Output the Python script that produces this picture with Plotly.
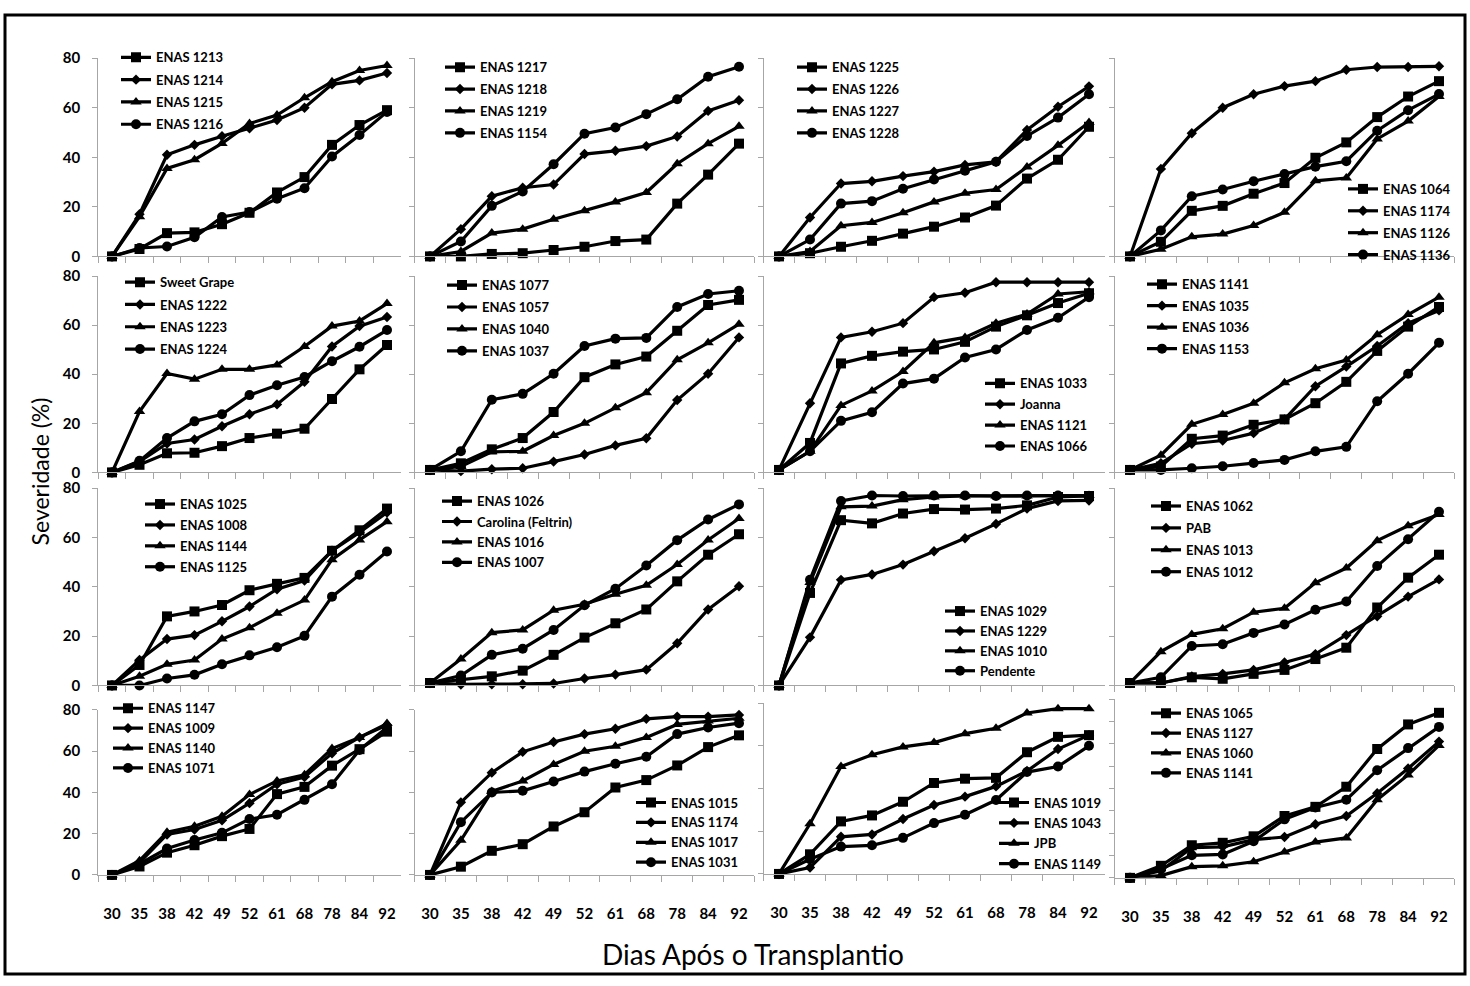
import plotly.graph_objects as go

W, H = 1470, 986

days = ["30", "35", "38", "42", "49", "52", "61", "68", "78", "84", "92"]

# ---------------- data (one panel = four accessions) ----------------
p1_names = ["ENAS 1213", "ENAS 1214", "ENAS 1215", "ENAS 1216"]
p1_sq = [0, 3, 9.4, 9.7, 13, 17.6, 25.8, 32, 45, 53, 59]
p1_di = [0, 17, 41, 45, 48.5, 51.7, 55, 60, 69.4, 71, 74]
p1_tr = [0, 16, 35.5, 39, 45.6, 53.6, 57, 64, 70.5, 75, 77]
p1_ci = [0, 3.4, 4, 7.7, 15.9, 17.9, 23.3, 27.5, 40.3, 49, 58.3]

p2_names = ["ENAS 1217", "ENAS 1218", "ENAS 1219", "ENAS 1154"]
p2_sq = [0, 0, 1, 1.3, 2.6, 3.9, 6.2, 6.8, 21.3, 33, 45.5]
p2_di = [0, 11, 24.3, 27.7, 29, 41.3, 42.6, 44.5, 48.4, 58.7, 63]
p2_tr = [0, 2, 9.4, 11, 15, 18.4, 22, 25.8, 37.4, 45.5, 52.5]
p2_ci = [0, 6, 20.4, 26.2, 37.2, 49.5, 52, 57.4, 63.4, 72.5, 76.5]

p3_names = ["ENAS 1225", "ENAS 1226", "ENAS 1227", "ENAS 1228"]
p3_sq = [0, 1.3, 3.9, 6.3, 9.2, 12, 15.7, 20.5, 31.4, 39, 52.3]
p3_di = [0, 15.7, 29.4, 30.3, 32.4, 34.2, 36.9, 38.2, 51, 60.4, 68.6]
p3_tr = [0, 2, 12.4, 13.7, 17.6, 22, 25.5, 27, 36.1, 44.8, 54]
p3_ci = [0, 6.8, 21.3, 22.3, 27.3, 31, 34.6, 38.2, 48.6, 56, 65.4]

p4_names = ["ENAS 1064", "ENAS 1174", "ENAS 1126", "ENAS 1136"]
p4_sq = [0, 5.9, 18.4, 20.4, 25.3, 29.6, 39.8, 46, 56.2, 64.5, 70.7]
p4_di = [0, 35.3, 49.7, 60, 65.4, 68.7, 70.7, 75.3, 76.4, 76.4, 76.7]
p4_tr = [0, 2.9, 7.9, 9, 12.5, 17.8, 30.5, 31.6, 47.4, 54.6, 64.5]
p4_ci = [0, 10.5, 24.3, 27, 30.3, 33.2, 36.2, 38.4, 50.7, 59, 65.5]

p5_names = ["Sweet Grape", "ENAS 1222", "ENAS 1223", "ENAS 1224"]
p5_sq = [0, 3.1, 7.8, 8, 10.7, 14, 15.8, 17.8, 29.9, 42, 51.9]
p5_di = [0, 4.4, 11.8, 13.4, 18.8, 23.7, 27.7, 36.9, 51.3, 59.6, 63.3]
p5_tr = [0, 24.8, 40.3, 38, 42, 42, 43.8, 51.3, 59.6, 61.7, 68.8]
p5_ci = [0, 4.7, 14, 20.8, 23.7, 31.5, 35.5, 38.9, 45.3, 51.2, 58]

p6_names = ["ENAS 1077", "ENAS 1057", "ENAS 1040", "ENAS 1037"]
p6_sq = [1, 3.7, 9.4, 14, 24.6, 38.8, 44, 47.2, 57.7, 68.2, 70.3]
p6_di = [1, 0.5, 1.3, 1.7, 4.4, 7.3, 11, 13.9, 29.5, 40.2, 55]
p6_tr = [1, 2.4, 8.4, 8.6, 15, 20, 26.3, 32.5, 45.9, 52.8, 60.4]
p6_ci = [1, 8.6, 29.6, 32, 40.2, 51.5, 54.5, 54.8, 67.4, 72.7, 74]

p7_names = ["ENAS 1033", "Joanna", "ENAS 1121", "ENAS 1066"]
p7_sq = [1, 12, 44.4, 47.5, 49.2, 50.1, 53.2, 59.4, 64, 69, 73]
p7_di = [1, 28.2, 55, 57.3, 60.8, 71.4, 73.2, 77.5, 77.5, 77.5, 77.5]
p7_tr = [1, 8.6, 27.3, 33.2, 41.1, 52.8, 55, 60.8, 64.5, 72.7, 73.6]
p7_ci = [1, 8.6, 21, 24.5, 36.2, 38.2, 46.8, 50.1, 58, 63, 71.4]

p8_names = ["ENAS 1141", "ENAS 1035", "ENAS 1036", "ENAS 1153"]
p8_sq = [1, 2.4, 13.7, 15, 19.4, 21.6, 28.2, 36.9, 49.5, 59.4, 67.4]
p8_di = [1, 3.7, 11.7, 13, 16, 21.6, 35.1, 43.1, 51.5, 60.8, 66]
p8_tr = [1, 7, 19.6, 23.6, 28.2, 36.5, 42.2, 45.8, 56.1, 64.3, 71.4]
p8_ci = [1, 1, 1.7, 2.5, 3.8, 5.1, 8.6, 10.4, 29, 40.2, 52.8]

p9_names = ["ENAS 1025", "ENAS 1008", "ENAS 1144", "ENAS 1125"]
p9_sq = [0, 8.3, 28, 30, 32.6, 38.6, 41.2, 43.6, 54.6, 62.9, 71.7]
p9_di = [0, 10.3, 18.8, 20.4, 26, 32, 39, 42.5, 54.6, 62, 70.1]
p9_tr = [0, 3.7, 8.6, 10.3, 18.8, 23.4, 29.3, 34.6, 51, 59, 66.4]
p9_ci = [0, 0, 2.8, 4.3, 8.6, 12.2, 15.5, 20.1, 36, 44.9, 54.3]

p10_names = ["ENAS 1026", "Carolina (Feltrin)", "ENAS 1016", "ENAS 1007"]
p10_sq = [1, 2.4, 3.7, 6, 12.4, 19.4, 25.2, 30.8, 42.2, 53, 61.3]
p10_di = [1, 0.4, 0.5, 0.5, 0.8, 2.8, 4.4, 6.4, 17.1, 30.8, 40.2]
p10_tr = [1, 10.7, 21.4, 22.5, 30.5, 32.9, 37, 40.6, 49, 59, 67.7]
p10_ci = [1, 4, 12.4, 14.9, 22.5, 32.5, 39.2, 48.6, 58.9, 67.3, 73.4]

p11_names = ["ENAS 1029", "ENAS 1229", "ENAS 1010", "Pendente"]
p11_sq = [0, 37.5, 67, 65.7, 69.7, 71.5, 71.3, 71.7, 73, 76.4, 76.8]
p11_di = [0, 19.5, 42.8, 45, 49, 54.4, 59.7, 65.5, 71.7, 74.8, 75]
p11_tr = [0, 41.7, 72.4, 72.7, 75.3, 76.4, 76.8, 76.8, 76.8, 77, 77]
p11_ci = [0, 42.8, 74.8, 77, 76.8, 77, 77, 76.8, 77, 77, 76.8]

p12_names = ["ENAS 1062", "PAB", "ENAS 1013", "ENAS 1012"]
p12_sq = [1, 1, 3.3, 2.7, 4.7, 6.3, 10.7, 15.3, 31.6, 43.7, 53]
p12_di = [1, 1, 3.6, 4.7, 6.3, 9.3, 12.7, 20.4, 28, 36, 43]
p12_tr = [1, 13.7, 20.7, 23, 29.7, 31.3, 41.6, 47.6, 58.7, 64.7, 69.3]
p12_ci = [1, 3.3, 16, 16.7, 21.3, 24.7, 30.7, 34, 48.4, 59.3, 70.4]

p13_names = ["ENAS 1147", "ENAS 1009", "ENAS 1140", "ENAS 1071"]
p13_sq = [0, 4.1, 10.8, 14.4, 18.8, 22.3, 39.2, 42.7, 53, 61, 69.5]
p13_di = [0, 6, 19.6, 22, 26.5, 34.8, 44, 47.5, 59, 66.7, 72.7]
p13_tr = [0, 6.9, 20.7, 23.6, 28.4, 39, 45.6, 48.6, 61.3, 66.7, 73.4]
p13_ci = [0, 5.3, 12.8, 16.9, 20.4, 27.1, 29.2, 36.4, 44, 60.6, 71.5]

p14_names = ["ENAS 1015", "ENAS 1174", "ENAS 1017", "ENAS 1031"]
p14_sq = [0, 4, 11.7, 14.9, 23.5, 30.4, 42.4, 46, 53.1, 62, 67.7]
p14_di = [0, 35.2, 49.6, 59.7, 64.5, 68.3, 70.9, 75.7, 76.8, 76.8, 77.6]
p14_tr = [0, 16.8, 40.5, 45.6, 53.6, 60, 62.4, 66.7, 73, 74.6, 76]
p14_ci = [0, 25.6, 40, 40.8, 45.3, 50.1, 53.9, 57.3, 68.3, 71.5, 73.6]

p15_names = ["ENAS 1019", "ENAS 1043", "JPB", "ENAS 1149"]
p15_sq = [0, 9.2, 24.6, 27.4, 33.8, 42.6, 44.6, 45, 57, 64.2, 65]
p15_di = [0, 3, 17.4, 18.5, 25.7, 32.3, 36.2, 41, 48.2, 58.5, 65]
p15_tr = [0, 23.5, 50.3, 55.8, 59.5, 61.5, 65.7, 68.2, 75.4, 77.4, 77.4]
p15_ci = [0, 6.9, 12.8, 13.4, 16.9, 23.8, 27.7, 34.6, 47.7, 50.3, 60]

p16_names = ["ENAS 1065", "ENAS 1127", "ENAS 1060", "ENAS 1141"]
p16_sq = [0, 5.4, 14.6, 15.7, 18.6, 27.7, 31.8, 40.8, 57.7, 68.7, 73.9]
p16_di = [0, 3.2, 13.5, 13.9, 17.1, 18.3, 24, 27.7, 37.9, 49, 61]
p16_tr = [0, 1, 5, 5.4, 7.2, 11.6, 16, 17.9, 35, 46.1, 59.3]
p16_ci = [0, 4, 10.1, 10.5, 16.4, 26.2, 31.5, 35, 48.2, 58.1, 67.6]

y_ticks_main = [0, 20, 40, 60, 80]
y_ticks_fine = [0, 10, 20, 30, 40, 50, 60, 70, 80]

y_title = "Severidade (%)"
x_title = "Dias Após o Transplantio"

panels = [
    (p1_names, [p1_sq, p1_di, p1_tr, p1_ci]),
    (p2_names, [p2_sq, p2_di, p2_tr, p2_ci]),
    (p3_names, [p3_sq, p3_di, p3_tr, p3_ci]),
    (p4_names, [p4_sq, p4_di, p4_tr, p4_ci]),
    (p5_names, [p5_sq, p5_di, p5_tr, p5_ci]),
    (p6_names, [p6_sq, p6_di, p6_tr, p6_ci]),
    (p7_names, [p7_sq, p7_di, p7_tr, p7_ci]),
    (p8_names, [p8_sq, p8_di, p8_tr, p8_ci]),
    (p9_names, [p9_sq, p9_di, p9_tr, p9_ci]),
    (p10_names, [p10_sq, p10_di, p10_tr, p10_ci]),
    (p11_names, [p11_sq, p11_di, p11_tr, p11_ci]),
    (p12_names, [p12_sq, p12_di, p12_tr, p12_ci]),
    (p13_names, [p13_sq, p13_di, p13_tr, p13_ci]),
    (p14_names, [p14_sq, p14_di, p14_tr, p14_ci]),
    (p15_names, [p15_sq, p15_di, p15_tr, p15_ci]),
    (p16_names, [p16_sq, p16_di, p16_tr, p16_ci]),
]

# ---------------- layout geometry (pixels) ----------------
COL_X = [(112, 387), (430, 739), (779, 1089), (1130, 1439)]   # centre of first / last category
ROW_Y = [(251, 49), (471, 271), (688, 487), (881, 713)]        # y of value 0 / value 80
ROW_Y_OVERRIDE = {14: (880, 706), 15: (884, 702)}
# legend: x of text start, y of first-entry centre, gap between entries
LEGENDS = [
    (156, 48, 2.4), (480, 58, 2), (832, 58, 2), (1383, 182, 2),
    (160, 277, 2.4), (482, 280, 2), (1020, 380, 1), (1182, 279, 1.6),
    (180, 503, 1), (477, 500, 0.5), (980, 612, 0), (1186, 505, 2),
    (148, 711, 0), (671, 807, 0), (1034, 807, 0.5), (1186, 716, 0),
]

symbols = ["square", "diamond", "triangle-up", "circle"]
msizes = [10, 8, 10, 10]
GRAY = "#a6a6a6"
FONT = "Lato"


def fx(px):
    return px / W


def fy(py):
    return 1 - py / H


fig = go.Figure()
layout = {}
for k, (names, series) in enumerate(panels):
    r, c = divmod(k, 4)
    idx = "" if k == 0 else str(k + 1)
    p30, p92 = COL_X[c]
    d = (p92 - p30) / 10
    y0, y80 = ROW_Y_OVERRIDE.get(k, ROW_Y[r])
    leg = "legend" + idx
    for s in range(4):
        fig.add_trace(go.Scatter(
            x=days, y=series[s], name=names[s], mode="lines+markers",
            xaxis="x" + idx, yaxis="y" + idx, legend=leg,
            legendgroup=f"g{k}_{s}",
            line=dict(color="black", width=3.2),
            marker=dict(symbol=symbols[s], size=msizes[s], color="black"),
            cliponaxis=False,
        ))
    layout["xaxis" + idx] = dict(
        domain=[fx(p30 - d / 2), fx(p92 + d / 2)], anchor="y" + idx,
        type="category", categoryarray=days, range=[-0.5, 10.5],
        tickson="boundaries", ticks="outside", ticklen=6, tickcolor=GRAY,
        showline=True, linecolor=GRAY, linewidth=1, showgrid=False, zeroline=False,
        showticklabels=(r == 3), ticklabelstandoff=25,
        tickfont=dict(family=FONT, size=15, color="black", weight="bold"),
    )
    layout["yaxis" + idx] = dict(
        domain=[fy(y0), fy(y80)], anchor="x" + idx, range=[0, 80],
        tickvals=(y_ticks_fine if k == 15 else y_ticks_main),
        ticks="outside", ticklen=5, tickcolor=GRAY,
        showline=True, linecolor=GRAY, linewidth=1, showgrid=False, zeroline=False,
        showticklabels=(c == 0), ticklabelstandoff=9,
        tickfont=dict(family=FONT, size=15, color="black", weight="bold"),
    )
    tx, cy, gap = LEGENDS[k]
    layout[leg] = dict(
        x=fx(tx - 40), y=fy(cy - 15), xanchor="left", yanchor="top",
        bgcolor="rgba(0,0,0,0)", borderwidth=0, tracegroupgap=gap,
        font=dict(family=FONT, size=13, color="black", weight="bold"),
    )

fig.update_layout(
    width=W, height=H, autosize=False,
    margin=dict(l=0, r=0, t=0, b=0),
    paper_bgcolor="white", plot_bgcolor="rgba(0,0,0,0)",
    showlegend=True,
    **layout,
)

fig.add_annotation(x=fx(40), y=fy(470), xref="paper", yref="paper", text=y_title,
                   textangle=-90, showarrow=False, xanchor="center", yanchor="middle",
                   font=dict(family=FONT, size=23, color="black"))
fig.add_annotation(x=fx(753), y=fy(962), xref="paper", yref="paper", text=x_title,
                   showarrow=False, xanchor="center", yanchor="middle",
                   font=dict(family=FONT, size=28, color="black"))
fig.add_shape(type="rect", xref="paper", yref="paper",
              x0=fx(5), x1=fx(1465), y0=fy(982), y1=fy(5),
              line=dict(color="black", width=3), fillcolor="rgba(0,0,0,0)")

fig.write_html("out.html", config={"displayModeBar": False},
               post_script="document.body.style.margin='0';")
